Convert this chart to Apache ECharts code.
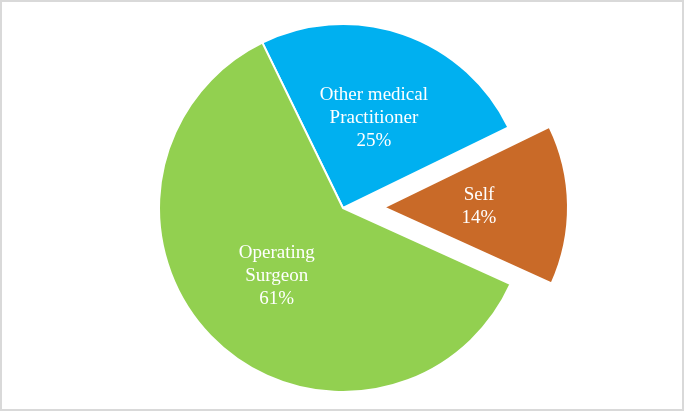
<!DOCTYPE html>
<html>
<head>
<meta charset="utf-8">
<script src="https://cdn.jsdelivr.net/npm/echarts@6/dist/echarts.min.js"></script>
<style>
  html, body { margin: 0; padding: 0; background: #fff; }
  #main { width: 685px; height: 412px; }
</style>
</head>
<body>
<div id="main"></div>
<script>
var categories = ['Other medical\nPractitioner', 'Self', 'Operating\nSurgeon'];
var values = [25, 14, 61];
var colors = ['#00B0F0', '#C96A28', '#92D050'];
var exploded = [false, true, false];

var chart = echarts.init(document.getElementById('main'));

var data = categories.map(function (name, i) {
  return {
    name: name,
    value: values[i],
    selected: exploded[i],
    itemStyle: { color: colors[i] }
  };
});

var option = {
  animation: false,
  graphic: [{
    type: 'rect',
    shape: { x: 1, y: 1, width: 682, height: 409 },
    style: { fill: 'none', stroke: '#d9d9d9', lineWidth: 2 }
  }],
  series: [{
    type: 'pie',
    center: [343, 208],
    radius: [0, 184],
    startAngle: 116,
    clockwise: true,
    selectedMode: 'single',
    selectedOffset: 41,
    data: data,
    itemStyle: { borderColor: '#fff', borderWidth: 2 },
    label: {
      show: true,
      position: 'inside',
      color: '#fff',
      fontFamily: 'Liberation Serif',
      fontSize: 19,
      lineHeight: 23,
      formatter: function (p) { return p.name + '\n' + p.value + '%'; }
    },
    labelLine: { show: false },
    emphasis: { disabled: true }
  }]
};

chart.setOption(option);
</script>
</body>
</html>
